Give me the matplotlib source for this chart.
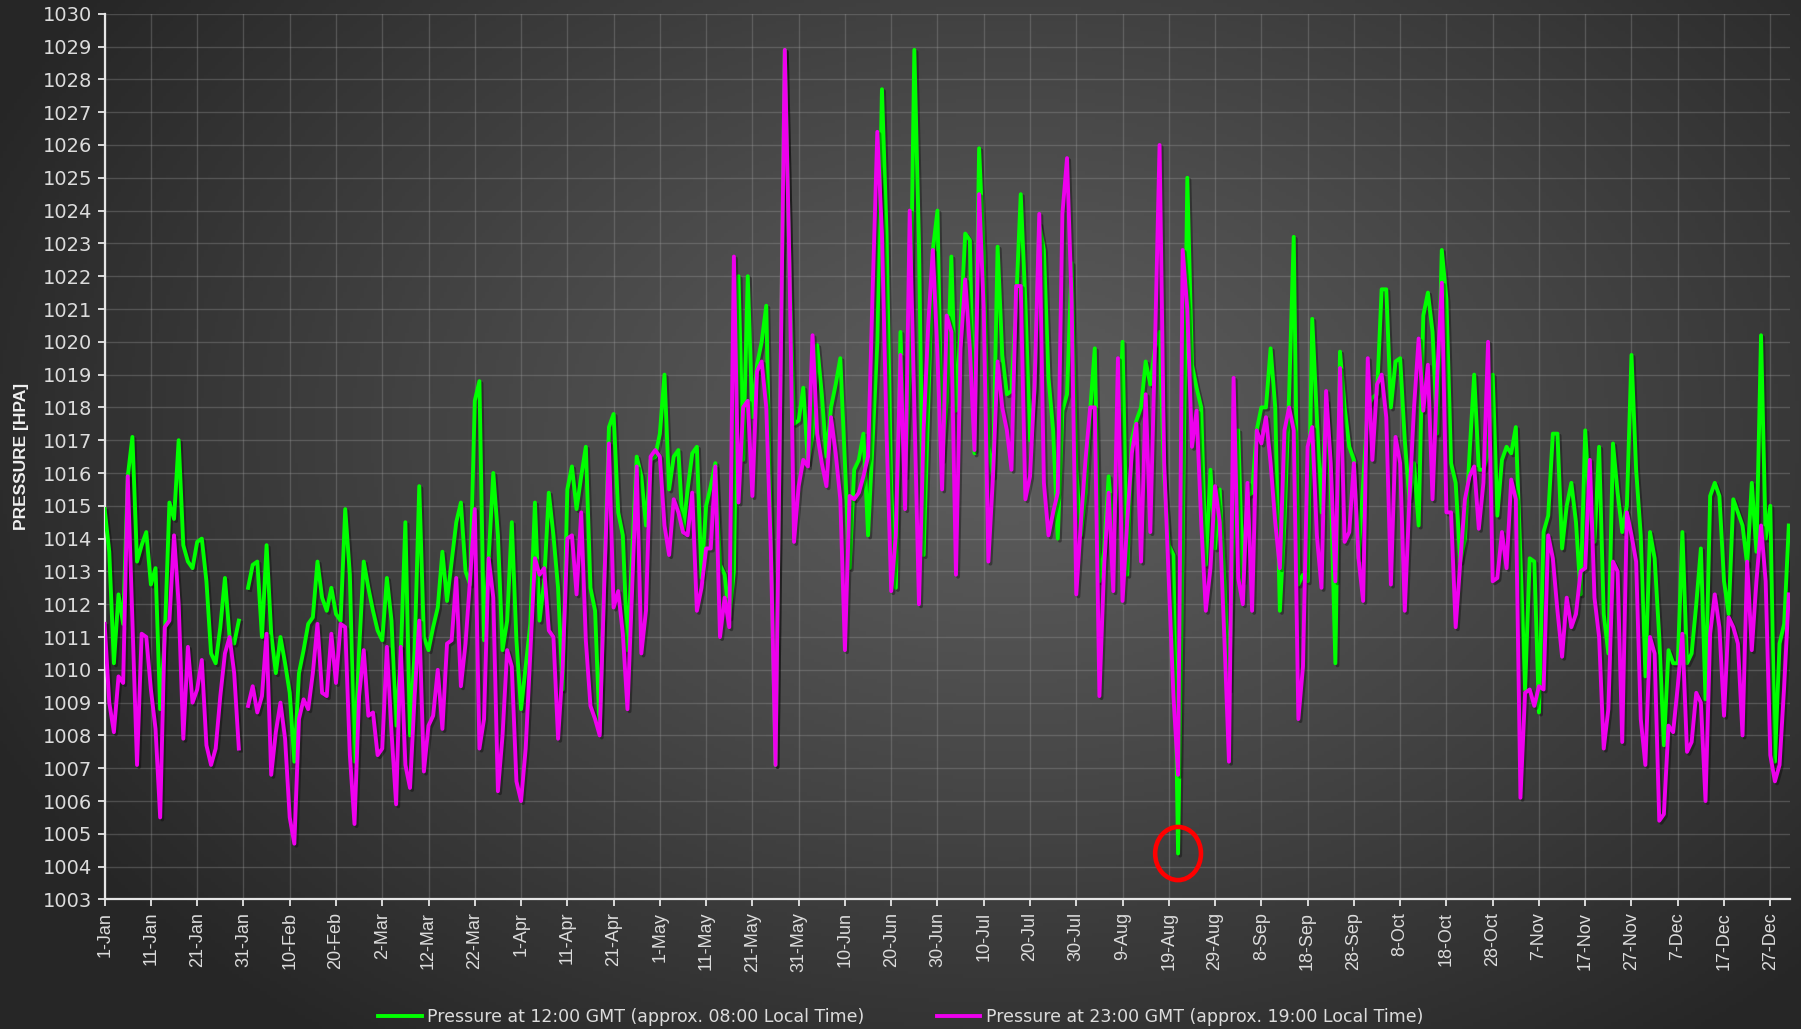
import numpy as np
import matplotlib
matplotlib.use('Agg')
import matplotlib.pyplot as plt
from matplotlib.patches import Ellipse
from matplotlib.lines import Line2D
import matplotlib.patheffects as pe

nan = np.nan

# daily pressure readings (hPa), 1-Jan .. 31-Dec, one gap on 31-Jan
p_1200 = [
    1014.9, 1013.6, 1010.2, 1012.3, 1011.4, 1015.9, 1017.1, 1013.3, 1013.8, 1014.2,
    1012.6, 1013.1, 1008.8, 1011.0, 1015.1, 1014.6, 1017.0, 1013.8, 1013.3, 1013.1,
    1013.9, 1014.0, 1012.7, 1010.5, 1010.2, 1011.3, 1012.8, 1011.0, 1010.8, 1011.5,
    nan, 1012.5, 1013.2, 1013.3, 1011.0, 1013.8, 1011.1, 1009.9, 1011.0, 1010.2,
    1009.3, 1007.2, 1009.9, 1010.6, 1011.4, 1011.6, 1013.3, 1012.2, 1011.8, 1012.5,
    1011.7, 1011.5, 1014.9, 1012.9, 1007.2, 1010.6, 1013.3, 1012.5, 1011.8, 1011.2,
    1010.9, 1012.8, 1011.5, 1008.3, 1010.4, 1014.5, 1008.0, 1010.6, 1015.6, 1011.0,
    1010.6, 1011.3, 1011.9, 1013.6, 1012.1, 1013.3, 1014.5, 1015.1, 1013.0, 1012.6,
    1018.2, 1018.8, 1010.9, 1013.4, 1016.0, 1014.1, 1010.6, 1011.5, 1014.5, 1010.9,
    1008.8, 1010.1, 1011.4, 1015.1, 1011.5, 1012.7, 1015.4, 1014.1, 1012.5, 1009.4,
    1015.5, 1016.2, 1014.9, 1015.9, 1016.8, 1012.5, 1011.8, 1008.1, 1012.7, 1017.4,
    1017.8, 1014.8, 1014.1, 1010.6, 1013.5, 1016.5, 1015.9, 1014.4, 1016.4, 1016.5,
    1017.2, 1019.0, 1015.5, 1016.5, 1016.7, 1014.2, 1015.5, 1016.6, 1016.8, 1012.8,
    1015.0, 1015.6, 1016.3, 1013.2, 1012.9, 1011.6, 1013.0, 1022.0, 1016.4, 1022.0,
    1017.7, 1019.3, 1020.0, 1021.1, 1014.0, 1007.1, 1018.0, 1028.9, 1022.4, 1017.5,
    1017.6, 1018.6, 1016.3, 1017.2, 1019.9, 1018.4, 1016.5, 1018.0, 1018.7, 1019.5,
    1016.3, 1013.1, 1016.1, 1016.4, 1017.2, 1014.1, 1017.0, 1020.0, 1027.7, 1023.3,
    1015.5, 1012.5, 1020.3, 1015.9, 1019.1, 1028.9, 1023.0, 1013.5, 1018.0, 1022.8,
    1024.0, 1016.4, 1018.2, 1022.6, 1017.9, 1020.5, 1023.3, 1023.1, 1016.6, 1025.9,
    1022.6, 1016.8, 1015.9, 1022.9, 1019.6, 1018.4, 1018.5, 1021.2, 1024.5, 1021.2,
    1017.0, 1018.5, 1023.6, 1022.8, 1018.9, 1017.3, 1014.0, 1017.9, 1018.4, 1022.4,
    1016.1, 1014.1, 1015.4, 1017.9, 1019.8, 1012.7, 1013.6, 1015.9, 1014.1, 1016.3,
    1020.0, 1012.9, 1017.0, 1017.6, 1018.0, 1019.4, 1018.7, 1019.8, 1020.3, 1015.9,
    1013.8, 1013.5, 1004.4, 1014.0, 1025.0, 1019.3, 1018.6, 1018.0, 1013.2, 1016.1,
    1013.7, 1015.5, 1012.7, 1009.4, 1014.5, 1017.3, 1012.7, 1015.3, 1015.4, 1017.3,
    1018.0, 1018.0, 1019.8, 1018.0, 1011.8, 1014.5, 1018.4, 1023.2, 1012.6, 1012.9,
    1012.7, 1020.7, 1017.7, 1014.8, 1018.2, 1015.7, 1010.2, 1019.7, 1018.0, 1016.8,
    1016.4, 1013.4, 1015.7, 1018.0, 1018.3, 1018.4, 1021.6, 1021.6, 1018.0, 1019.4,
    1019.5, 1017.0, 1015.2, 1016.3, 1014.4, 1020.8, 1021.5, 1020.3, 1017.2, 1022.8,
    1021.3, 1016.3, 1015.7, 1013.3, 1014.0, 1016.6, 1019.0, 1016.1, 1016.1, 1016.6,
    1019.0, 1014.7, 1016.4, 1016.8, 1016.6, 1017.4, 1013.4, 1009.4, 1013.4, 1013.3,
    1008.7, 1014.2, 1014.7, 1017.2, 1017.2, 1013.7, 1015.0, 1015.7, 1014.5, 1012.3,
    1017.3, 1014.8, 1013.9, 1016.8, 1011.7, 1010.5, 1016.9, 1015.4, 1014.2, 1015.0,
    1019.6, 1016.1, 1014.1, 1009.8, 1014.2, 1013.4, 1011.0, 1007.7, 1010.6, 1010.2,
    1010.2, 1014.2, 1010.2, 1010.5, 1012.0, 1013.7, 1009.1, 1015.3, 1015.7, 1015.3,
    1012.7, 1011.7, 1015.2, 1014.8, 1014.4, 1013.2, 1015.7, 1013.6, 1020.2, 1014.0,
    1015.0, 1007.2, 1010.8, 1011.4, 1014.4,
]

p_2300 = [
    1011.4, 1009.0, 1008.1, 1009.8, 1009.6, 1015.9, 1011.5, 1007.1, 1011.1, 1011.0,
    1009.4, 1008.2, 1005.5, 1011.3, 1011.5, 1014.1, 1012.0, 1007.9, 1010.7, 1009.0,
    1009.4, 1010.3, 1007.7, 1007.1, 1007.6, 1009.2, 1010.5, 1011.0, 1009.9, 1007.6,
    nan, 1008.9, 1009.5, 1008.7, 1009.2, 1011.1, 1006.8, 1008.1, 1009.0, 1007.9,
    1005.5, 1004.7, 1008.5, 1009.1, 1008.8, 1009.9, 1011.4, 1009.3, 1009.2, 1011.1,
    1009.6, 1011.4, 1011.3, 1007.4, 1005.3, 1009.2, 1010.6, 1008.6, 1008.7, 1007.4,
    1007.6, 1010.7, 1008.1, 1005.9, 1010.7, 1007.1, 1006.4, 1009.2, 1011.5, 1006.9,
    1008.3, 1008.6, 1010.0, 1008.2, 1010.8, 1010.9, 1012.8, 1009.5, 1010.8, 1012.8,
    1014.9, 1007.6, 1008.5, 1013.4, 1012.2, 1006.3, 1008.0, 1010.6, 1010.1, 1006.6,
    1006.0, 1007.6, 1010.5, 1013.4, 1012.9, 1013.1, 1011.2, 1011.0, 1007.9, 1010.1,
    1014.0, 1014.1, 1012.3, 1014.8, 1010.9, 1008.9, 1008.5, 1008.0, 1012.7, 1016.9,
    1011.9, 1012.4, 1011.1, 1008.8, 1012.4, 1016.2, 1010.5, 1011.8, 1016.5, 1016.7,
    1016.5, 1014.4, 1013.5, 1015.2, 1014.8, 1014.2, 1014.1, 1015.4, 1011.8, 1012.5,
    1013.7, 1013.7, 1016.2, 1011.0, 1012.2, 1011.3, 1022.6, 1015.1, 1018.0, 1018.2,
    1015.3, 1019.1, 1019.4, 1018.0, 1013.6, 1007.1, 1018.0, 1028.9, 1022.4, 1013.9,
    1015.6, 1016.4, 1016.2, 1020.2, 1017.2, 1016.3, 1015.6, 1017.7, 1016.6, 1015.2,
    1010.6, 1015.3, 1015.2, 1015.4, 1015.9, 1016.5, 1021.6, 1026.4, 1023.3, 1017.2,
    1012.4, 1014.1, 1019.6, 1014.9, 1024.0, 1018.0, 1012.0, 1017.3, 1020.5, 1022.8,
    1019.6, 1015.5, 1020.8, 1020.3, 1012.9, 1019.8, 1021.9, 1019.8, 1016.7, 1024.5,
    1021.0, 1013.3, 1015.9, 1019.4, 1018.0, 1017.3, 1016.1, 1021.7, 1021.7, 1015.2,
    1015.9, 1018.7, 1023.9, 1015.7, 1014.1, 1014.8, 1015.4, 1023.9, 1025.6, 1021.2,
    1012.3, 1014.5, 1016.4, 1018.0, 1018.0, 1009.2, 1013.1, 1015.4, 1012.4, 1019.5,
    1012.1, 1014.5, 1016.6, 1017.5, 1013.3, 1018.4, 1014.2, 1019.8, 1026.0, 1016.3,
    1012.7, 1009.2, 1006.8, 1022.8, 1021.0, 1016.8, 1017.9, 1014.5, 1011.8, 1013.1,
    1015.6, 1014.5, 1011.0, 1007.2, 1018.9, 1012.8, 1012.0, 1015.7, 1011.8, 1017.3,
    1016.9, 1017.7, 1016.3, 1014.5, 1013.1, 1017.3, 1018.0, 1017.3, 1008.5, 1010.1,
    1016.8, 1017.4, 1014.1, 1012.5, 1018.5, 1016.3, 1012.7, 1019.2, 1013.9, 1014.2,
    1016.3, 1013.4, 1012.1, 1019.5, 1016.4, 1018.7, 1019.0, 1017.7, 1012.6, 1017.1,
    1016.3, 1011.8, 1015.2, 1018.0, 1020.1, 1017.9, 1019.3, 1015.2, 1018.9, 1021.8,
    1014.8, 1014.8, 1011.3, 1013.3, 1015.2, 1015.9, 1016.2, 1014.3, 1015.7, 1020.0,
    1012.7, 1012.8, 1014.2, 1013.1, 1015.8, 1015.2, 1006.1, 1009.3, 1009.4, 1008.9,
    1009.5, 1009.4, 1014.1, 1013.4, 1011.8, 1010.4, 1012.2, 1011.3, 1011.7, 1013.0,
    1013.1, 1016.4, 1012.2, 1011.0, 1007.6, 1008.8, 1013.3, 1013.0, 1007.8, 1014.8,
    1014.1, 1013.3, 1008.5, 1007.1, 1011.0, 1010.5, 1005.4, 1005.6, 1008.3, 1008.1,
    1009.5, 1011.1, 1007.5, 1007.8, 1009.3, 1009.0, 1006.0, 1011.1, 1012.3, 1011.3,
    1008.6, 1011.6, 1011.3, 1010.8, 1008.0, 1013.3, 1010.6, 1012.7, 1014.4, 1012.7,
    1007.4, 1006.6, 1007.1, 1009.5, 1012.3,
]

tick_labels = ['1-Jan', '11-Jan', '21-Jan', '31-Jan', '10-Feb', '20-Feb', '2-Mar',
               '12-Mar', '22-Mar', '1-Apr', '11-Apr', '21-Apr', '1-May', '11-May',
               '21-May', '31-May', '10-Jun', '20-Jun', '30-Jun', '10-Jul', '20-Jul',
               '30-Jul', '9-Aug', '19-Aug', '29-Aug', '8-Sep', '18-Sep', '28-Sep',
               '8-Oct', '18-Oct', '28-Oct', '7-Nov', '17-Nov', '27-Nov', '7-Dec',
               '17-Dec', '27-Dec']

lowest_day = 232
lowest_val = 1004.4

days = np.arange(len(p_1200))
txt = '#dcdcdc'
narrow = ['Liberation Sans Narrow', 'DejaVu Sans']

fig = plt.figure(figsize=(18.01, 10.29), dpi=100)

# radial grey background
bg = fig.add_axes([0, 0, 1, 1], zorder=-10)
yy, xx = np.mgrid[0:1:300j, 0:1:520j]
r = np.sqrt(((xx - 0.56) / 0.62) ** 2 + ((yy - 0.42) / 0.75) ** 2)
r = np.clip(r, 0, 1) ** 1.1
shade = 0.37 + (0.15 - 0.37) * r
bg.imshow(np.dstack([shade, shade, shade]), aspect='auto', extent=[0, 1, 1, 0])
bg.set_axis_off()

ax = fig.add_axes([0.0581, 0.1259, 0.9359, 0.8607])
ax.set_facecolor('none')

shadow = [pe.SimpleLineShadow(offset=(1.5, -1.5), shadow_color='black', alpha=0.35), pe.Normal()]
ax.plot(days, p_1200, color='#00ff00', lw=2.8, zorder=3, path_effects=shadow)
ax.plot(days, p_2300, color='#ee00ee', lw=2.8, zorder=4, path_effects=shadow)

ax.add_patch(Ellipse((lowest_day, lowest_val), width=9.9, height=1.62, fill=False,
                     edgecolor='#ff0000', lw=3.3, zorder=6))

ax.set_xlim(0, 364.3)
ax.set_ylim(1003, 1030)
ax.set_yticks(np.arange(1003, 1031, 1))
ax.set_xticks(np.arange(0, 361, 10))
ax.set_xticklabels(tick_labels, rotation=90, fontsize=13, family='Liberation Sans', color=txt)
for lab in ax.get_yticklabels():
    lab.set_family(narrow)
    lab.set_fontsize(14)
    lab.set_color(txt)

ax.grid(True, color='#9a9a9a', alpha=0.32, lw=1)
ax.set_axisbelow(True)
for s in ['top', 'right']:
    ax.spines[s].set_visible(False)
for s in ['left', 'bottom']:
    ax.spines[s].set_color('#e6e6e6')
    ax.spines[s].set_linewidth(1.6)
ax.tick_params(axis='both', colors='#e6e6e6', length=5, width=1.3, direction='out')
ax.tick_params(axis='both', labelcolor=txt)
ax.tick_params(axis='y', pad=4)
ax.tick_params(axis='x', pad=4)

fig.text(0.0117, 0.556, 'PRESSURE [HPA]', rotation=90, va='center', ha='center',
         fontsize=12.5, fontweight='bold', color='#f0f0f0', family='Liberation Sans')

handles = [Line2D([], [], color='#00ff00', lw=2.8),
           Line2D([], [], color='#ee00ee', lw=2.8)]
labels = ['Pressure at 12:00 GMT (approx. 08:00 Local Time)',
          'Pressure at 23:00 GMT (approx. 19:00 Local Time)']
fig.legend(handles, labels, loc='center', bbox_to_anchor=(0.5, 0.012), ncol=2,
           frameon=False, handlelength=2.5, handletextpad=0.3, columnspacing=4.2,
           prop={'family': narrow, 'size': 12.5}, labelcolor=txt)

fig.savefig('out.png', dpi=100)
